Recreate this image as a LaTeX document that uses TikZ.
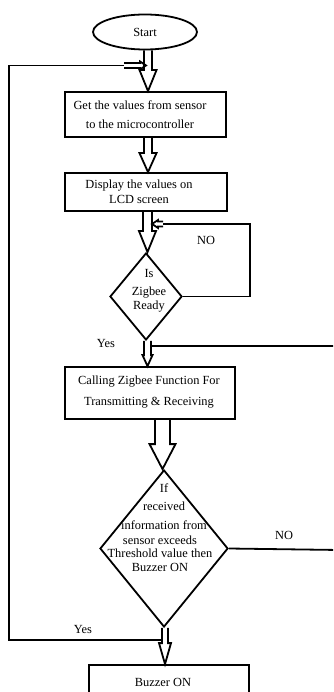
\documentclass[tikz,border=0pt]{standalone}
\usepackage{fontspec}
\setmainfont{Liberation Serif}
\usetikzlibrary{shapes.geometric,calc}
\newcommand\blockdown[6]{%
  \draw[blk] let \p1=(#1), \p2=(#2) in
    (#3pt-#4pt,\y1) -- (#3pt-#4pt,\y2+#6pt) -- (#3pt-#5pt,\y2+#6pt) -- (#3pt,\y2)
    -- (#3pt+#5pt,\y2+#6pt) -- (#3pt+#4pt,\y2+#6pt) -- (#3pt+#4pt,\y1);}
\begin{document}
\begin{tikzpicture}[x=1pt,y=-1pt,
  every node/.style={font=\fontsize{12.4}{13.5}\selectfont, inner sep=0pt},
  box/.style={draw, line width=1.8pt, rectangle},
  dia/.style={draw, line width=1.8pt, diamond, shape aspect=1},
  term/.style={draw, line width=1.8pt, ellipse},
  blk/.style={draw, line width=1.8pt, line join=miter},
  ln/.style={draw, line width=1.8pt},
  lbl/.style={align=center}]
\clip (0,0) rectangle (333,692);
\fill[white] (0,0) rectangle (333,692);

% nodes
\node[term, minimum width=104pt, minimum height=35pt] (start) at (145,32) {Start};
\node[box, minimum width=161pt, minimum height=45pt] (b1) at (145.5,114.5) {};
\node[lbl] (t1) at (140,114.5) {Get the values from sensor\\[5.5pt]to the microcontroller};
\node[box, minimum width=162pt, minimum height=38pt] (b2) at (146,192) {};
\node[lbl] (t2) at (139,191.5) {Display the values on\\[1.5pt]LCD screen};
\node[dia, minimum width=72pt, minimum height=87pt] (d1) at (146,296.5) {};
\node[lbl] (td1) at (149,291) {Is\\[4.5pt]Zigbee\\Ready};
\node[box, minimum width=170pt, minimum height=52pt] (b3) at (150,393) {};
\node[lbl] (t3) at (149,392.5) {Calling Zigbee Function For\\[7.5pt]Transmitting \& Receiving};
\node[dia, minimum width=128pt, minimum height=157pt] (d2) at (164,548.5) {};
\node[lbl] (td2a) at (164,506.5) {If\\[5pt]received\\[5pt]information from};
\node[lbl] (td2b) at (160,553.5) {sensor exceeds\\Threshold value then\\Buzzer ON};
\node[box, minimum width=160pt, minimum height=38pt] (b4) at (169,684) {};
\node (t4) at (163,682) {Buzzer ON};

% labels
\node (no1) at (206,240) {NO};
\node (yes1) at (106,343) {Yes};
\node (no2) at (284,535) {NO};
\node (yes2) at (83,629) {Yes};

% main block arrows
\blockdown{start.south}{b1.north}{148}{4}{8.5}{21}
\blockdown{b1.south}{b2.north}{148}{4}{8.5}{19}
\blockdown{b2.south}{d1.north}{147.5}{4.5}{8.5}{21}
\blockdown{d1.south}{b3.north}{147.5}{3.5}{5}{11}
\blockdown{b3.south}{d2.north}{162.5}{7.5}{13}{25}
\blockdown{d2.south}{b4.north}{165}{3}{6}{21}

% loop back: Yes of second decision
\coordinate (yj) at (162,640);
\coordinate (lb) at (9,640);
\coordinate (lt) at (9,65.5);
\coordinate (la) at (124,65.5);
\draw[ln] (yj) -- (lb) -- (lt) -- (la);
\draw[blk] (la) ++(0,-2.5) -- ++(16,0) -- ++(0,-1.5) -- ++(6,4) -- ++(-6,4) -- ++(0,-1.5) -- ++(-16,0);

% NO loop of first decision
\coordinate (n1a) at (250,296.5);
\coordinate (n1b) at (250,224);
\coordinate (n1c) at (163,224);
\draw[ln] (d1.east) -- (n1a) -- (n1b) -- (n1c);
\draw[blk] (n1c) ++(0,-2.5) -- ++(-5,0) -- ++(0,-1.5) -- ++(-6,4) -- ++(6,4) -- ++(0,-1.5) -- ++(5,0);

% NO of second decision, returning above the calling box
\coordinate (n2a) at (340,550);
\coordinate (n2b) at (340,346);
\coordinate (n2c) at (151,346);
\draw[ln] (d2.east) -- (n2a) -- (n2b) -- (n2c);
\end{tikzpicture}
\end{document}
